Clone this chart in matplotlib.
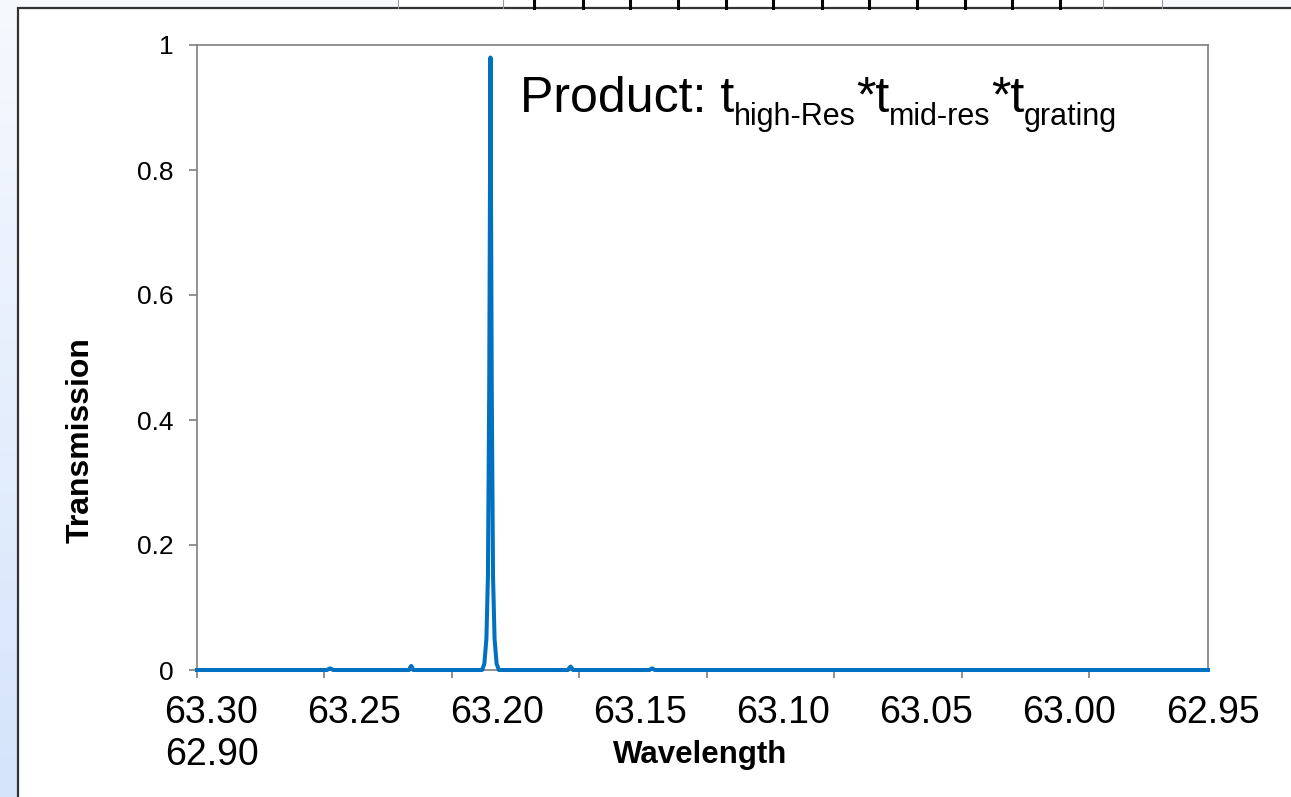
import matplotlib.pyplot as plt
import numpy as np
from matplotlib.patches import Rectangle
from matplotlib.transforms import IdentityTransform

plt.rcParams['font.family'] = ['Liberation Sans', 'DejaVu Sans']

# Transmission of the product filter
wavelength = [63.3000, 63.2490, 63.2484, 63.2478, 63.2472, 63.2466,
              63.2168, 63.2164, 63.2160, 63.2156, 63.2152,
              63.1882, 63.1873, 63.1865, 63.1859, 63.1854, 63.1849,
              63.1844, 63.1839, 63.1833, 63.1825, 63.1816,
              63.1545, 63.1540, 63.1535, 63.1530, 63.1525,
              63.1225, 63.1220, 63.1215, 63.1210, 63.1205, 62.9035]
transmission = [0.0, 0.0, 0.0015, 0.0025, 0.0015, 0.0,
                0.0, 0.004, 0.0065, 0.004, 0.0,
                0.0, 0.01, 0.05, 0.15, 0.45, 0.98,
                0.45, 0.15, 0.05, 0.01, 0.0,
                0.0, 0.003, 0.0055, 0.003, 0.0,
                0.0, 0.0015, 0.0025, 0.0015, 0.0, 0.0]

xticks = [63.30, 63.25, 63.20, 63.15, 63.10, 63.05, 63.00, 62.95]
xlabels = ["63.30", "63.25", "63.20", "63.15", "63.10", "63.05", "63.00", "62.95"]
xlabel_wrapped = "62.90"
yticks = [0, 0.2, 0.4, 0.6, 0.8, 1]
ylabels = ["0", "0.2", "0.4", "0.6", "0.8", "1"]

W, H = 1291, 797
fig = plt.figure(figsize=(W / 100, H / 100), dpi=100)

# slide background, white panel and the table strip above it
bg = fig.add_axes([0, 0, 1, 1], zorder=-1)
bg.set_xlim(0, W)
bg.set_ylim(H, 0)
bg.axis('off')
grad = np.linspace(0, 1, 256).reshape(-1, 1)
top_c = np.array([0.965, 0.976, 0.996])
bot_c = np.array([0.835, 0.894, 0.984])
bg.imshow(top_c + grad[:, :, None] * (bot_c - top_c), extent=(0, W, H, 0), aspect='auto')
bg.add_patch(Rectangle((398, 0), 1162 - 398, 8, facecolor='white', edgecolor='none'))
bg.add_patch(Rectangle((18, 8), W, H, facecolor='white', edgecolor='#333333', lw=1.6))
for x in [398, 503, 1103, 1162]:
    bg.plot([x, x], [0, 8], color='#999999', lw=0.8)
for x in [534, 583, 630, 678, 726, 773, 822, 869, 917, 965, 1012, 1060]:
    bg.plot([x, x], [0, 8], color='black', lw=2.2)

ax = fig.add_axes([197 / W, 1 - 670 / H, (1208 - 197) / W, (670 - 45) / H])
ax.plot(wavelength, transmission, color='#0070C0', lw=2.9, clip_on=False, zorder=5)
ax.set_xlim(63.30, 62.9035)
ax.set_ylim(0, 1)
ax.set_xticks(xticks)
ax.set_yticks(yticks)
ax.set_yticklabels(ylabels)
ax.tick_params(axis='x', direction='out', length=5.8, width=1.2, color='#7f7f7f', labelbottom=False)
ax.tick_params(axis='y', direction='out', length=5.8, width=1.2, color='#7f7f7f', labelsize=19, pad=11)
for s in ax.spines.values():
    s.set_color('#7f7f7f')
    s.set_linewidth(1.2)

# Excel spreads the category labels evenly, so they do not sit on the ticks
for i, lab in enumerate(xlabels):
    ax.text(0.0139 + i * 0.14151, -0.04, lab, transform=ax.transAxes,
            ha='center', va='top', fontsize=27)
ax.text(-0.0317, -0.107, xlabel_wrapped, transform=ax.transAxes,
        ha='left', va='top', fontsize=27)

ax.set_xlabel("Wavelength", fontsize=22.5, fontweight='bold')
ax.xaxis.set_label_coords(0.4975, -0.112)
ax.set_ylabel("Transmission", fontsize=23, fontweight='bold')
ax.yaxis.set_label_coords(-0.1, 0.368)

# annotation with subscripts, laid out piece by piece
fig.canvas.draw()
r = fig.canvas.get_renderer()
x = 520
base = H - 112
pieces = [("Product: t", 36, 0), ("high-Res", 22, -13), ("*t", 36, 0),
          ("mid-res", 22, -13), ("*t", 36, 0), ("grating", 22, -13)]
for s, fs, dy in pieces:
    t = fig.text(x, base + dy, s, fontsize=fs, transform=IdentityTransform(), va='baseline')
    x = t.get_window_extent(r).x1

fig.savefig("out.png", dpi=100)
